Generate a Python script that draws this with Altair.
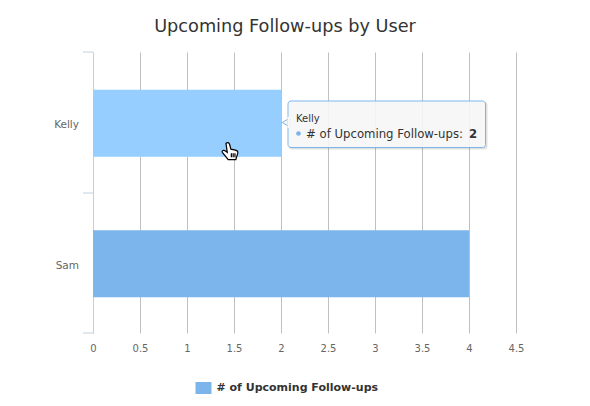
import altair as alt
import pandas as pd

users = ["Kelly", "Sam"]
counts = [2, 4]
series_name = "# of Upcoming Follow-ups"
x_ticks = [0, 0.5, 1, 1.5, 2, 2.5, 3, 3.5, 4, 4.5]
FONT = "DejaVu Sans"

df = pd.DataFrame({"user": users, "count": counts, "series": [series_name] * len(users)})

W, H = 423, 281

x_scale = alt.Scale(domain=[0, 4.5], nice=False, zero=True)
y_scale = alt.Scale(domain=users, paddingInner=0.523, paddingOuter=0.2615)

bars = alt.Chart(df).mark_bar(size=67, cornerRadius=0, yOffset=1).encode(
    x=alt.X("count:Q", scale=x_scale, axis=alt.Axis(
        values=x_ticks, title=None, domain=False, ticks=False, grid=True,
        gridColor="#C0C0C0", gridWidth=1, labelColor="#666666", labelFont=FONT,
        labelFontSize=10, labelPadding=10, labelFlush=False, labelExpr="datum.value")),
    y=alt.Y("user:N", scale=y_scale, sort=users, axis=alt.Axis(
        title=None, domainColor="#C0D0E0", domainWidth=1, ticks=False, labelOffset=3,
        labelColor="#666666", labelFont=FONT, labelFontSize=10.5, labelPadding=14.5)),
    color=alt.condition(
        "datum.user === 'Kelly'",
        alt.value("#95ceff"),
        alt.Color("series:N", scale=alt.Scale(domain=[series_name], range=["#7cb5ec"]),
                  legend=alt.Legend(
                      title=None, orient="none", legendX=102.5, legendY=328,
                      symbolType="M-1,-0.75H1V0.75H-1Z", symbolSize=256,
                      symbolStrokeWidth=0, labelFont=FONT, labelFontSize=11,
                      labelFontWeight="bold", labelColor="#333333", labelOffset=5,
                      labelLimit=400)),
    ),
)

layers = [bars]

# Category-edge ticks of the y axis
for ty in (0, 141, 281):
    layers.append(alt.Chart(df.head(1)).mark_rule(color="#C0D0E0", strokeWidth=1).encode(
        x=alt.value(-10), x2=alt.value(0), y=alt.value(ty)))

kelly = df[df.user == "Kelly"]

# Tooltip
shadow = alt.Chart(kelly).mark_rect(fill="#000000", fillOpacity=0.12, cornerRadius=3).encode(
    x=alt.value(196), x2=alt.value(394.5), y=alt.value(50), y2=alt.value(97.5))
box = alt.Chart(kelly).mark_rect(fill="#F9F9F9", fillOpacity=0.88, stroke="#7cb5ec",
                                 strokeWidth=1, cornerRadius=3).encode(
    x=alt.value(195), x2=alt.value(392.5), y=alt.value(49), y2=alt.value(95.5))
pointer = alt.Chart(kelly).mark_point(shape="triangle-left", size=80, filled=True, fill="#F9F9F9",
                                      stroke="#7cb5ec", strokeWidth=1, opacity=1).encode(
    x=alt.value(193), y=alt.value(70.5))
pointer_fill = alt.Chart(kelly).mark_rect(fill="#F9F9F9").encode(
    x=alt.value(194.5), x2=alt.value(196), y=alt.value(65), y2=alt.value(76))
layers += [shadow, pointer, box, pointer_fill]

tip_name = alt.Chart(kelly).mark_text(align="left", baseline="middle", font=FONT, fontSize=10,
                                      color="#333333").encode(
    x=alt.value(203), y=alt.value(67), text="user:N")
bullet = alt.Chart(kelly).mark_point(shape="circle", filled=True, size=22, color="#7cb5ec", opacity=1).encode(
    x=alt.value(205.5), y=alt.value(81.5))
tip_series = alt.Chart(kelly).mark_text(align="left", baseline="middle", font=FONT, fontSize=11.7,
                                        color="#333333").encode(
    x=alt.value(213), y=alt.value(82), text=alt.Text("label:N")).transform_calculate(
    label="datum.series + ':'")
tip_value = alt.Chart(kelly).mark_text(align="left", baseline="middle", font=FONT, fontSize=11.7,
                                       fontWeight="bold", color="#333333").encode(
    x=alt.value(376), y=alt.value(82), text="count:Q")
layers += [tip_name, bullet, tip_series, tip_value]

# Hand cursor
hand = ("M-0.45,-0.85C-0.3,-1 -0.1,-0.95 -0.05,-0.75L0.1,-0.2L0.6,-0.1C0.85,-0.05 0.9,0.1 0.85,0.3"
        "L0.65,0.95L-0.2,0.95L-0.85,0.15C-0.95,-0.05 -0.7,-0.15 -0.5,0L-0.3,0.15Z"
        "M0.15,0.25V0.7M0.35,0.25V0.7M0.55,0.25V0.7")
cursor = alt.Chart(kelly).mark_point(shape=hand, size=324, filled=True, fill="#FFFFFF",
                                     stroke="#000000", strokeWidth=1.2, opacity=1).encode(
    x=alt.value(137), y=alt.value(99))
layers.append(cursor)

chart = alt.layer(*layers).properties(
    width=W, height=H,
    padding={"left": 85, "top": 44, "right": 50, "bottom": 64},
    autosize=alt.AutoSizeParams(type="none"),
    title=alt.TitleParams("Upcoming Follow-ups by User", font=FONT, fontSize=17.7, fontWeight="normal",
                          color="#333333", anchor="middle", frame="group", dx=-19.5, offset=16),
).configure_view(stroke=None)

chart.save("out.html", embed_options={"renderer": "svg", "actions": False})
